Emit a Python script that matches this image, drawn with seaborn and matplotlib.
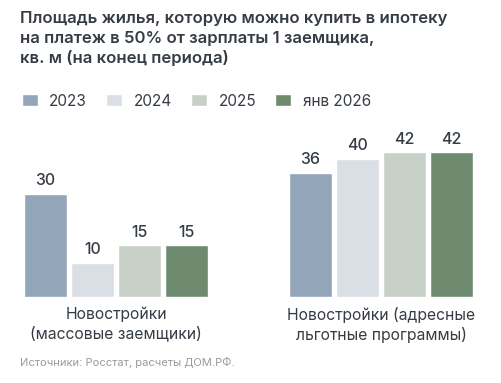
import pandas as pd
import matplotlib.pyplot as plt
import seaborn as sns

# Data
groups = ['Новостройки\n(массовые заемщики)', 'Новостройки (адресные\nльготные программы)']
periods = ['2023', '2024', '2025', 'янв 2026']
vals_mass = [30, 10, 15, 15]
vals_target = [36, 40, 42, 42]
colors = ['#8DA5BE', '#D8DEE7', '#C6D2C6', '#69906B']

df = pd.DataFrame({
    'group': [groups[0]] * 4 + [groups[1]] * 4,
    'period': periods * 2,
    'value': vals_mass + vals_target,
})

sns.set_theme(style='white')
plt.rcParams['font.family'] = ['Inter', 'DejaVu Sans']
text_col = '#353c44'

W, H = 501, 383
fig = plt.figure(figsize=(W / 100, H / 100), dpi=100)
base_px = 297
ax = fig.add_axes([0, (H - base_px) / H, 1, base_px / H])

sns.barplot(data=df, x='group', y='value', hue='period', palette=colors,
            width=0.71, gap=0.1, ax=ax, legend=True)

# pixel mapping: group centres at 116 and 381 px
ax.set_xlim((0 - 116) / 265, (W - 116) / 265)
ax.set_ylim(0, base_px / 3.45)

for c in ax.containers:
    ax.bar_label(c, fmt='%d', padding=4, fontsize=11.5, color=text_col, fontweight='medium')

ax.set_xlabel('')
ax.set_ylabel('')
ax.set_yticks([])
ax.tick_params(axis='x', length=0, pad=7, labelsize=11.3, labelcolor=text_col)
for lab in ax.get_xticklabels():
    lab.set_linespacing(1.3)
sns.despine(ax=ax, left=True, bottom=True, top=True, right=True)
ax.patch.set_alpha(0)

handles, labels = ax.get_legend_handles_labels()
ax.legend(handles, labels, ncol=4, frameon=False, loc='center left',
          bbox_to_anchor=(8 / W, 1 - 101 / H), bbox_transform=fig.transFigure,
          handlelength=1.05, handleheight=0.85, handletextpad=0.75, columnspacing=1.25,
          fontsize=11, labelcolor=text_col)

fig.text(20 / W, 1 - 11 / H,
         'Площадь жилья, которую можно купить в ипотеку\n'
         'на платеж в 50% от зарплаты 1 заемщика,\n'
         'кв. м (на конец периода)',
         ha='left', va='top', fontsize=12, fontweight='semibold', color=text_col,
         linespacing=1.38)

fig.text(20 / W, 1 - 362 / H, 'Источники: Росстат, расчеты ДОМ.РФ.',
         ha='left', va='center', fontsize=8, color='#9a9a9a')

fig.savefig('out.png', dpi=100)
